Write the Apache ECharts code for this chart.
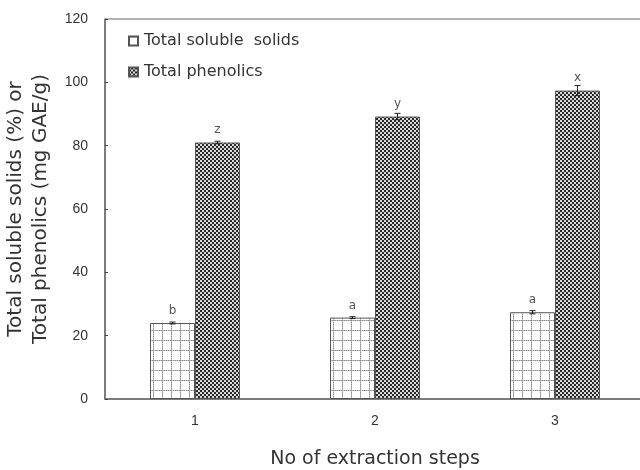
<!DOCTYPE html>
<html><head><meta charset="utf-8">
<script src="https://cdn.jsdelivr.net/npm/echarts@6/dist/echarts.min.js"></script>
<style>html,body{margin:0;padding:0;background:#fff}#c{width:640px;height:470px}</style>
</head><body><div id="c"></div>
<script>
const categories = ['1', '2', '3'];
const solids = [24.0, 25.7, 27.4];
const solidsErr = [0.3, 0.3, 0.5];
const solidsLetters = ['b', 'a', 'a'];
const phenolics = [81.0, 89.2, 97.4];
const phenolicsErr = [0.4, 1.0, 1.6];
const phenolicsLetters = ['z', 'y', 'x'];
const yTicks = [0, 20, 40, 60, 80, 100, 120];

function gridPattern() {
  const c = document.createElement('canvas');
  c.width = 9; c.height = 10;
  const g = c.getContext('2d');
  g.fillStyle = '#ffffff'; g.fillRect(0, 0, 9, 10);
  g.fillStyle = '#8c8c8c';
  for (let y = 0; y < 10; y += 2) g.fillRect(0, y, 1, 1);
  for (let x = 0; x < 9; x += 2) g.fillRect(x, 0, 1, 1);
  g.fillStyle = '#bdbdbd';
  for (let y = 1; y < 10; y += 2) g.fillRect(0, y, 1, 1);
  for (let x = 1; x < 9; x += 2) g.fillRect(x, 0, 1, 1);
  return c;
}
function checkPattern() {
  const c = document.createElement('canvas');
  c.width = 4; c.height = 4;
  const g = c.getContext('2d');
  g.fillStyle = '#2a2a2a'; g.fillRect(0, 0, 4, 4);
  g.fillStyle = '#d8d8d8';
  g.fillRect(0, 0, 2, 2); g.fillRect(2, 2, 2, 2);
  return c;
}
const FONT = 'DejaVu Sans';
const NUMFONT = 'Liberation Sans';
const chart = echarts.init(document.getElementById('c'), null, {renderer: 'canvas'});

function errSeries(vals, errs, side) {
  return {
    type: 'custom',
    z: 10,
    silent: true,
    data: vals.map((v, i) => [i, v, errs[i]]),
    renderItem: function (params, api) {
      const i = api.value(0), v = api.value(1), e = api.value(2);
      const band = api.size([1, 0])[0];
      const off = side * band * 0.125;
      const top = api.coord([i, v + e]);
      const bot = api.coord([i, v - e]);
      const x = top[0] + off;
      const cap = 3;
      const st = {stroke: '#222', lineWidth: 1};
      return {type: 'group', children: [
        {type: 'line', shape: {x1: x, y1: top[1], x2: x, y2: bot[1]}, style: st},
        {type: 'line', shape: {x1: x - cap, y1: top[1], x2: x + cap, y2: top[1]}, style: st},
        {type: 'line', shape: {x1: x - cap, y1: bot[1], x2: x + cap, y2: bot[1]}, style: st}
      ]};
    }
  };
}

chart.setOption({
  animation: false,
  backgroundColor: '#fff',
  textStyle: {fontFamily: FONT},
  grid: {left: 105, top: 19, width: 540, height: 380, show: true, borderColor: '#6a6a6a', borderWidth: 1,
    backgroundColor: 'transparent', outerBoundsMode: 'none', containLabel: false},
  legend: {
    orient: 'vertical', left: 128, top: 33, padding: 0, itemWidth: 9, itemHeight: 9, itemGap: 15,
    icon: 'rect',
    textStyle: {fontFamily: FONT, fontSize: 16, color: '#333', padding: [0, 0, 0, 1]},
    data: ['Total soluble  solids', 'Total phenolics']
  },
  xAxis: {
    type: 'category', data: categories,
    axisLine: {lineStyle: {color: '#6a6a6a', width: 1.5}},
    axisTick: {inside: true, length: 4, lineStyle: {color: '#444'}},
    axisLabel: {fontSize: 14, color: '#333', margin: 15, fontFamily: NUMFONT},
    name: 'No of extraction steps', nameLocation: 'middle', nameGap: 51,
    nameTextStyle: {fontSize: 19, color: '#333', fontFamily: FONT}
  },
  yAxis: {
    type: 'value', min: 0, max: 120, interval: 20,
    axisLine: {show: true, lineStyle: {color: '#6a6a6a', width: 1.5}},
    axisTick: {show: true, inside: true, length: 3, lineStyle: {color: '#444'}},
    splitLine: {show: false},
    axisLabel: {fontSize: 14, color: '#333', margin: 17, fontFamily: NUMFONT,
      formatter: v => yTicks.indexOf(v) >= 0 ? String(v) : ''},
    name: 'Total soluble solids (%) or\nTotal phenolics (mg GAE/g)',
    nameLocation: 'middle', nameGap: 46,
    nameTextStyle: {fontSize: 20, color: '#333', fontFamily: FONT, lineHeight: 25}
  },
  series: [
    {
      name: 'Total soluble  solids', type: 'bar', data: solids,
      barWidth: '25%', barGap: '0%',
      itemStyle: {color: {image: gridPattern(), repeat: 'repeat'}, borderColor: '#555', borderWidth: 1},
      label: {show: true, position: 'top', distance: 6, fontSize: 12, color: '#555', fontFamily: FONT,
        formatter: p => solidsLetters[p.dataIndex]}
    },
    {
      name: 'Total phenolics', type: 'bar', data: phenolics,
      barWidth: '25%', barGap: '0%',
      itemStyle: {color: {image: checkPattern(), repeat: 'repeat'}, borderColor: '#555', borderWidth: 1},
      label: {show: true, position: 'top', distance: 7, fontSize: 12, color: '#555', fontFamily: FONT,
        formatter: p => phenolicsLetters[p.dataIndex]}
    },
    errSeries(solids, solidsErr, -1),
    errSeries(phenolics, phenolicsErr, 1)
  ]
});
</script></body></html>
